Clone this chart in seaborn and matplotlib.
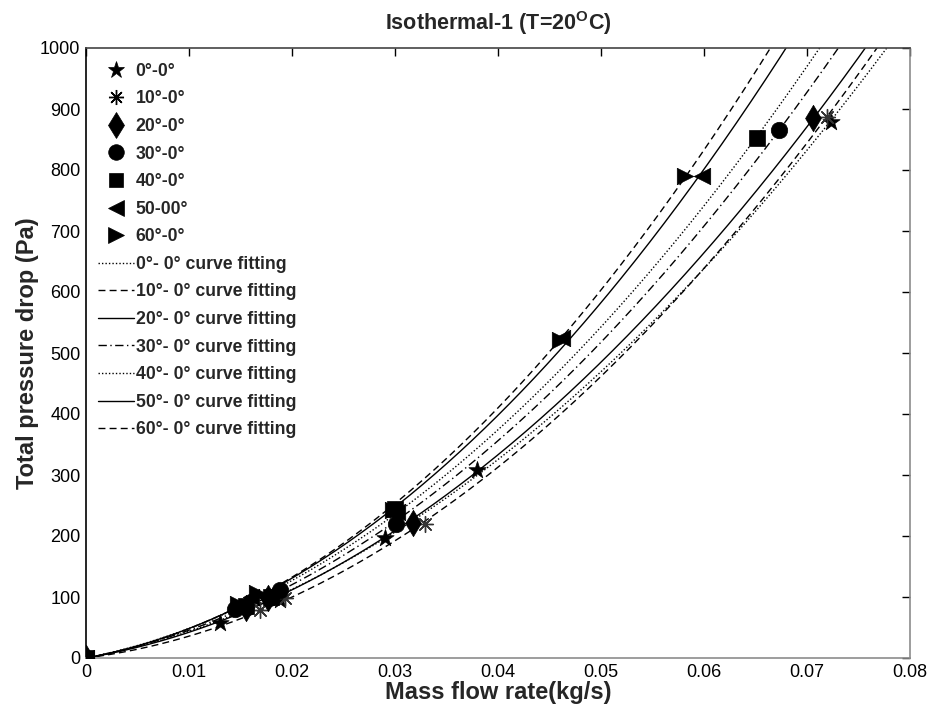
import numpy as np
import pandas as pd
import matplotlib
matplotlib.use("Agg")
import matplotlib.pyplot as plt
import seaborn as sns
from matplotlib.lines import Line2D

# ---- data ----
labels = ["0°-0°", "10°-0°", "20°-0°", "30°-0°", "40°-0°", "50-00°", "60°-0°"]
fit_labels = ["0°- 0° curve fitting", "10°- 0° curve fitting", "20°- 0° curve fitting",
              "30°- 0° curve fitting", "40°- 0° curve fitting", "50°- 0° curve fitting",
              "60°- 0° curve fitting"]

x_0 = [0, 0.013, 0.0188, 0.029, 0.038, 0.0723]
y_0 = [0, 58, 95, 196, 308, 879]
x_10 = [0, 0.0169, 0.0193, 0.0329, 0.0719]
y_10 = [0, 79, 98, 220, 887]
x_20 = [0, 0.0155, 0.0177, 0.0317, 0.0706]
y_20 = [0, 82, 98, 221, 885]
x_30 = [0, 0.0145, 0.0188, 0.0301, 0.0673]
y_30 = [0, 80, 112, 220, 866]
x_40 = [0, 0.0155, 0.0180, 0.0300, 0.0651]
y_40 = [0, 85, 100, 245, 853]
x_50 = [0, 0.0160, 0.0175, 0.0302, 0.0462, 0.0598]
y_50 = [0, 100, 100, 240, 524, 790]
x_60 = [0, 0.0148, 0.0166, 0.0298, 0.0460, 0.0582]
y_60 = [0, 88, 106, 242, 522, 790]

xs = [x_0, x_10, x_20, x_30, x_40, x_50, x_60]
ys = [y_0, y_10, y_20, y_30, y_40, y_50, y_60]

x_ticks = [0, 0.01, 0.02, 0.03, 0.04, 0.05, 0.06, 0.07, 0.08]
x_ticklabels = ["0", "0.01", "0.02", "0.03", "0.04", "0.05", "0.06", "0.07", "0.08"]
y_ticks = [0, 100, 200, 300, 400, 500, 600, 700, 800, 900, 1000]

# ---- styles ----
markers = ["*", (8, 2, 0), "d", "o", "s", "<", ">"]
msizes = [170, 130, 180, 140, 120, 140, 140]
mcolors = ["black", "#333333", "black", "black", "black", "black", "black"]
linestyles = [(0, (1, 1.5)), (0, (5, 3)), "-", (0, (6, 2.5, 1, 2.5)), (0, (1, 1.5)), "-", (0, (5, 3))]

sns.set_theme(style="white")
plt.rcParams["font.family"] = ["Liberation Sans", "DejaVu Sans"]

fig = plt.figure(figsize=(9.33, 7.06), dpi=100)
ax = fig.add_axes([86 / 933, 1 - 658 / 706, 824 / 933, 610 / 706])

# fitted curves (least squares y = a x + b x^2 through origin)
grid = np.linspace(0, 0.08, 400)
for i in range(7):
    xa = np.asarray(xs[i], float)
    ya = np.asarray(ys[i], float)
    A = np.column_stack([xa, xa ** 2])
    coef, *_ = np.linalg.lstsq(A, ya, rcond=None)
    yfit = coef[0] * grid + coef[1] * grid ** 2
    df = pd.DataFrame({"x": grid, "y": yfit})
    sns.lineplot(data=df, x="x", y="y", ax=ax, color="black", lw=1.0,
                 linestyle=linestyles[i], legend=False, zorder=2)

# data points
for i in range(7):
    df = pd.DataFrame({"x": xs[i], "y": ys[i]})
    if i == 1:
        sns.scatterplot(data=df, x="x", y="y", ax=ax, marker=markers[i], s=msizes[i],
                        color=mcolors[i], edgecolor=mcolors[i], linewidth=1.0,
                        legend=False, zorder=3)
    else:
        sns.scatterplot(data=df, x="x", y="y", ax=ax, marker=markers[i], s=msizes[i],
                        color=mcolors[i], edgecolor="black", linewidth=0.5,
                        legend=False, zorder=3)

ax.set_xlim(0, 0.08)
ax.set_ylim(0, 1000)
ax.set_xticks(x_ticks)
ax.set_xticklabels(x_ticklabels)
ax.set_yticks(y_ticks)
ax.tick_params(direction="in", length=6, width=1, top=True, right=True,
               labelsize=13, colors="black", pad=4)
for side in ["bottom", "right"]:
    ax.spines[side].set_color("#8c8c8c")
ax.spines["top"].set_color("#444444")
ax.spines["left"].set_color("black")
for s in ax.spines.values():
    s.set_linewidth(1.2)

ax.set_xlabel("Mass flow rate(kg/s)", fontsize=17, fontweight="bold", labelpad=0)
ax.set_ylabel("Total pressure drop (Pa)", fontsize=17, fontweight="bold", labelpad=1)
ax.set_title("Isothermal-1 (T=20$^{\\mathregular{O}}$C)", fontsize=15.5, fontweight="bold", pad=13)

# legend
handles = []
for i in range(7):
    handles.append(Line2D([], [], linestyle="none", marker=markers[i], color="black",
                          markersize=np.sqrt(msizes[i]) * 0.95,
                          markeredgewidth=1.0 if i == 1 else 0.5))
for i in range(7):
    handles.append(Line2D([], [], linestyle=linestyles[i], color="black", lw=1.0))
leg = ax.legend(handles, labels + fit_labels, loc="upper left", frameon=False,
                prop={"weight": "bold", "size": 12.7}, handlelength=2.0,
                handletextpad=0.12, labelspacing=0.6, borderaxespad=0.3,
                bbox_to_anchor=(0.0, 0.996))

fig.savefig("out.png", dpi=100)
